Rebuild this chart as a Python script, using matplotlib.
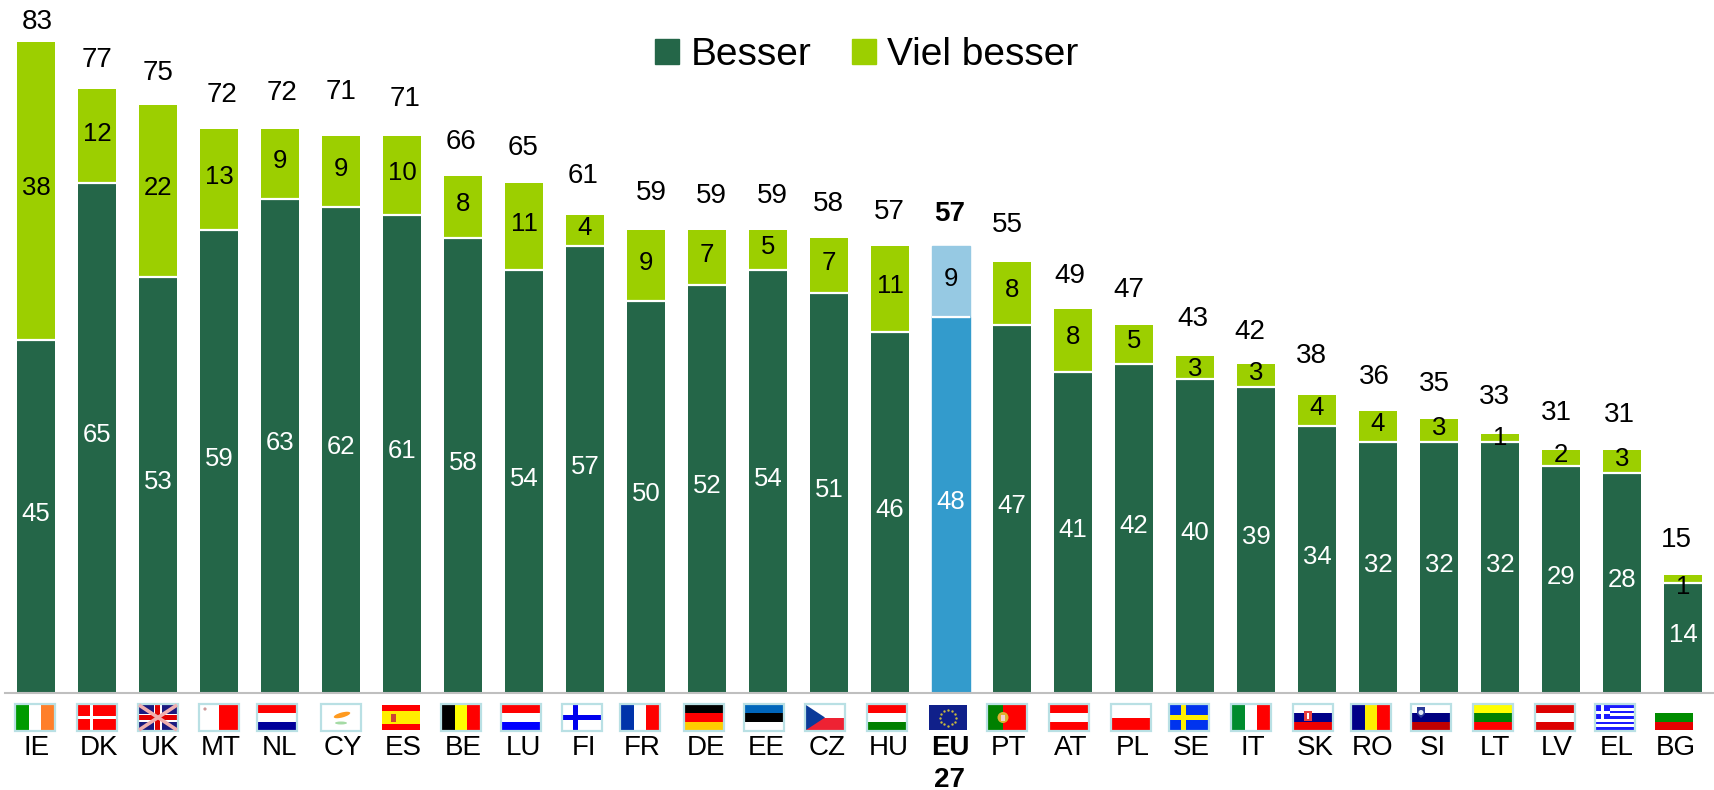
#!/usr/bin/env python3
"""Stacked bars per country (Besser / Viel besser) with small flags under the axis."""

import numpy as np
import matplotlib
matplotlib.use("Agg")
import matplotlib.pyplot as plt
from matplotlib.patches import Rectangle, Polygon, Circle, Ellipse

plt.rcParams['font.family'] = ['Liberation Sans', 'DejaVu Sans']

countries = ['IE', 'DK', 'UK', 'MT', 'NL', 'CY', 'ES', 'BE', 'LU', 'FI', 'FR', 'DE', 'EE', 'CZ',
             'HU', 'EU\n27', 'PT', 'AT', 'PL', 'SE', 'IT', 'SK', 'RO', 'SI', 'LT', 'LV', 'EL', 'BG']
besser = [45, 65, 53, 59, 63, 62, 61, 58, 54, 57, 50, 52, 54, 51,
          46, 48, 47, 41, 42, 40, 39, 34, 32, 32, 32, 29, 28, 14]
viel_besser = [38, 12, 22, 13, 9, 9, 10, 8, 11, 4, 9, 7, 5, 7,
               11, 9, 8, 8, 5, 3, 3, 4, 4, 3, 1, 2, 3, 1]
totals = [83, 77, 75, 72, 72, 71, 71, 66, 65, 61, 59, 59, 59, 58,
          57, 57, 55, 49, 47, 43, 42, 38, 36, 35, 33, 31, 31, 15]

# hand placement of labels and flags, in pixels
total_dx = [1, 0, 0, 3, 2, 0, 3, -2, -1, -2, 5, 4, 4, -1,
            -1, -1, -5, -3, -5, -2, -6, -6, -4, -5, -6, -5, -3, -7]
total_dy = [20, 29, 32, 34, 36, 44, 37, 34, 35, 39, 37, 34, 34, 34,
            34, 32, 37, 33, 35, 37, 32, 39, 34, 35, 37, 37, 35, 35]
flag_dx = [-1, 0, 0, 0, -3, 0, -1, -2, -3, -3, -6, -3, -4, -4,
           -3, -3, -5, -4, -3, -6, -5, -4, -7, -8, -7, -6, -7, -9]
top_dy = {19: -4, 24: -3, 27: -10}

DARK = '#246648'
LIGHT = '#9ccf00'
EU_DARK = '#339bcc'
EU_LIGHT = '#96c9e3'
W, H = 1715, 790
BASE_Y = 693      # pixel row of the axis
SLOT = 61.0       # pixels between bars
FIRST = 36.0      # centre of first bar
PX_UNIT = 7.84    # pixels per percent
EU_IDX = countries.index('EU\n27')

# plain band flags: direction and colours
BANDS = {
    'IE': ('v', ['#009a00', '#ffffff', '#ff7f2a']),
    'NL': ('h', ['#ff0000', '#ffffff', '#000099']),
    'BE': ('v', ['#000000', '#ffff00', '#ff0000']),
    'LU': ('h', ['#ff0000', '#ffffff', '#0000ff']),
    'FR': ('v', ['#0033aa', '#ffffff', '#ff0000']),
    'DE': ('h', ['#000000', '#ff0000', '#ffcc00']),
    'EE': ('h', ['#0066bb', '#000000', '#ffffff']),
    'HU': ('h', ['#ff0000', '#ffffff', '#008000']),
    'AT': ('h', ['#ff0000', '#ffffff', '#ff0000']),
    'PL': ('h', ['#ffffff', '#ff0000']),
    'IT': ('v', ['#008c2e', '#ffffff', '#ff0000']),
    'SK': ('h', ['#ffffff', '#000088', '#ee0000']),
    'RO': ('v', ['#000088', '#ffee00', '#ff0000']),
    'SI': ('h', ['#ffffff', '#000080', '#c00000']),
    'LT': ('h', ['#ffff00', '#008000', '#ff0000']),
    'LV': ('h', ['#dd0000', '#ffffff', '#dd0000']),
    'BG': ('h', ['#ffffff', '#008c00', '#e60000']),
}
NO_BORDER = ['ES', 'EU\n27', 'BG']


def draw_flag(fa, code, cx):
    """Draw one flag on the pixel overlay axes, centred on cx."""
    w, h = 38, 25
    x0, y0 = cx - w / 2, 705

    def rect(x, y, rw, rh, color):
        fa.add_patch(Rectangle((x0 + x, y0 + y), rw, rh, fc=color, ec='none'))

    rect(0, 0, w, h, '#ffffff')
    if code in BANDS:
        kind, cols = BANDS[code]
        for k, col in enumerate(cols):
            if kind == 'v':
                rect(k * w / len(cols), 0, w / len(cols), h, col)
            else:
                rect(0, k * h / len(cols), w, h / len(cols), col)
    elif code == 'DK':
        rect(0, 0, w, h, '#ff0000')
        rect(12, 0, 3.5, h, '#ffffff')
        rect(0, 10.5, w, 3.5, '#ffffff')
    elif code == 'UK':
        rect(0, 0, w, h, '#1a1a80')
        fa.plot([x0, x0 + w], [y0, y0 + h], color='#f0b0b0', lw=2.6, solid_capstyle='butt')
        fa.plot([x0, x0 + w], [y0 + h, y0], color='#f0b0b0', lw=2.6, solid_capstyle='butt')
        rect(15, 0, 8, h, '#ffffff')
        rect(0, 8.5, w, 8, '#ffffff')
        rect(16.5, 0, 5, h, '#e00000')
        rect(0, 10, w, 5, '#e00000')
    elif code == 'MT':
        rect(19, 0, 19, h, '#ff0000')
        fa.add_patch(Circle((x0 + 5, y0 + 4), 1.6, fc='#cc9999', ec='none'))
    elif code == 'CY':
        fa.add_patch(Ellipse((x0 + 20, y0 + 10), 17, 5, angle=-15, fc='#ff9a1f', ec='none'))
        fa.add_patch(Ellipse((x0 + 19, y0 + 18), 12, 3, fc='#a5dba5', ec='none'))
    elif code == 'ES':
        rect(0, 0, w, h, '#ff0000')
        rect(0, 6, w, 13, '#ffee00')
        rect(9, 8.5, 5, 8, '#cc4433')
    elif code == 'FI':
        rect(10, 0, 5.5, h, '#0000ee')
        rect(0, 9.5, w, 5.5, '#0000ee')
    elif code == 'CZ':
        rect(0, 12.5, w, 12.5, '#ee2233')
        fa.add_patch(Polygon([(x0, y0), (x0 + 19, y0 + 12.5), (x0, y0 + h)], fc='#0a3a99', ec='none'))
    elif code == 'EU\n27':
        rect(0, 0, w, h, '#10208a')
        ang = np.arange(12) * np.pi / 6
        fa.scatter(x0 + 19 + 8 * np.cos(ang), y0 + 12.5 + 8 * np.sin(ang), s=3, color='#c8b840', linewidths=0)
    elif code == 'PT':
        rect(0, 0, 15, h, '#008000')
        rect(15, 0, 23, h, '#ff0000')
        fa.add_patch(Circle((x0 + 15, y0 + 12.5), 5.5, fc='#e0b030', ec='none'))
        rect(13, 9.5, 4, 6, '#f4d0d0')
    elif code == 'SE':
        rect(0, 0, w, h, '#0033ee')
        rect(11, 0, 5, h, '#ffee00')
        rect(0, 10, w, 5, '#ffee00')
    elif code == 'EL':
        for k in range(9):
            rect(0, k * h / 9, w, h / 9, '#1a1aff' if k % 2 == 0 else '#ffffff')
        rect(0, 0, 14, 13.9, '#1a1aff')
        rect(5.5, 0, 3, 13.9, '#ffffff')
        rect(0, 5.5, 14, 3, '#ffffff')

    # crests on the band flags
    if code == 'SK':
        rect(10, 6, 8, 10, '#e84040')
        rect(13, 8, 2, 6, '#ffffff')
    if code == 'SI':
        fa.add_patch(Polygon([(x0 + 5, y0 + 2), (x0 + 13, y0 + 2), (x0 + 13, y0 + 9),
                              (x0 + 9, y0 + 13), (x0 + 5, y0 + 9)], fc='#2a3a99', ec='none'))
        fa.add_patch(Circle((x0 + 9, y0 + 7.5), 2.5, fc='#dfe8f5', ec='none'))
    if code not in NO_BORDER:
        fa.add_patch(Rectangle((x0 - 1, y0 - 1), w + 2, h + 2, fc='none', ec='#b9e0e4', lw=1.6))


def main():
    x = np.arange(len(countries))
    bottom = np.array(besser)
    top = np.array(viel_besser)

    fig = plt.figure(figsize=(W / 100, H / 100), dpi=100)
    ax = fig.add_axes([0, (H - BASE_Y) / H, 1, BASE_Y / H])
    ax.set_xlim(-FIRST / SLOT, (W - FIRST) / SLOT)
    ax.set_ylim(0, BASE_Y / PX_UNIT)

    width = 38 / SLOT
    b1 = ax.bar(x, bottom, width, color=DARK, label='Besser')
    b2 = ax.bar(x, top, width, bottom=bottom, color=LIGHT, label='Viel besser')
    b1[EU_IDX].set_color(EU_DARK)
    b2[EU_IDX].set_color(EU_LIGHT)
    # thin white gap between the two parts of each bar
    for bar in b2:
        ax.plot([bar.get_x(), bar.get_x() + width], [bar.get_y(), bar.get_y()],
                color='white', lw=1.6, solid_capstyle='butt')

    for i in x:
        ax.annotate(str(besser[i]), (i, bottom[i] / 2), xytext=(0, 2), textcoords='offset points',
                    ha='center', va='center', fontsize=18.5, color='white')
        ax.annotate(str(viel_besser[i]), (i, bottom[i] + top[i] / 2),
                    xytext=(0, 2 + top_dy.get(i, 0) * 0.72), textcoords='offset points',
                    ha='center', va='center', fontsize=18.5, color='black')
        ax.annotate(str(totals[i]), (i, bottom[i] + top[i]),
                    xytext=(total_dx[i] * 0.72, total_dy[i] * 0.72), textcoords='offset points',
                    ha='center', va='center', fontsize=20, color='black',
                    fontweight='bold' if i == EU_IDX else 'normal')

    for s in ['top', 'left', 'right']:
        ax.spines[s].set_visible(False)
    ax.spines['bottom'].set_color('#bfbfbf')
    ax.spines['bottom'].set_linewidth(1.5)
    ax.spines['bottom'].set_bounds(-31 / SLOT, (W - FIRST) / SLOT)
    ax.set_yticks([])
    ax.set_xticks(x + (np.array(flag_dx) + 2) / SLOT, labels=countries)
    ax.tick_params(axis='x', length=0, pad=30, labelsize=20)
    ax.get_xticklabels()[EU_IDX].set_fontweight('bold')
    ax.get_xticklabels()[EU_IDX].set_linespacing(1.3)

    ax.legend(handles=[b1[0], b2[0]], labels=['Besser', 'Viel besser'], ncol=2, frameon=False,
              fontsize=28, loc='center', bbox_to_anchor=(867 / W, 1 - 55 / BASE_Y),
              handlelength=0.6, handleheight=0.6, handletextpad=0.3, columnspacing=1.05)
    leg = ax.get_legend()
    for patch, col in zip(leg.get_patches(), [DARK, LIGHT]):
        patch.set_color(col)

    # overlay in pixel coordinates for the flags
    fa = fig.add_axes([0, 0, 1, 1])
    fa.set_xlim(0, W)
    fa.set_ylim(H, 0)
    fa.axis('off')
    for i, code in enumerate(countries):
        draw_flag(fa, code, FIRST + SLOT * i + flag_dx[i])

    fig.savefig('out.png', dpi=100)


if __name__ == "__main__":
    main()
